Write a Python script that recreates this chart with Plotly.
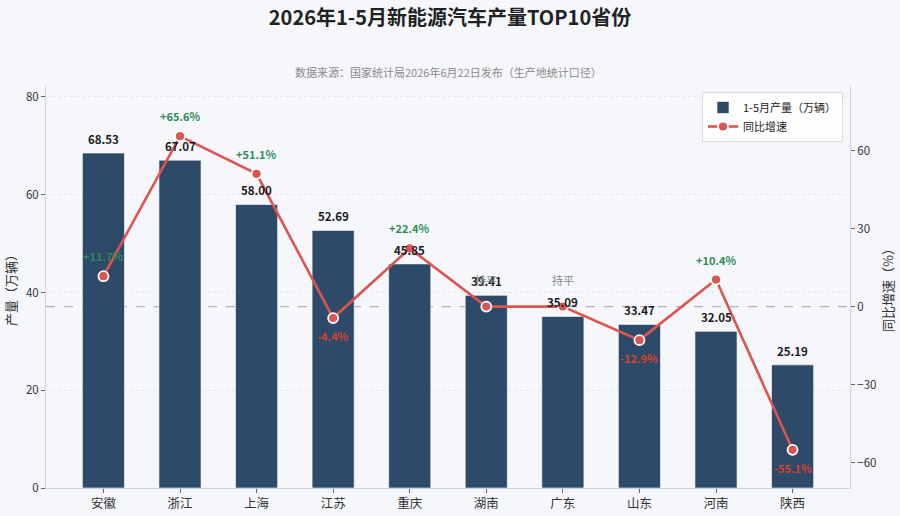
import plotly.graph_objects as go

provinces = ["安徽", "浙江", "上海", "江苏", "重庆", "湖南", "广东", "山东", "河南", "陕西"]
output_vals = [68.53, 67.07, 58.00, 52.69, 45.85, 39.41, 35.09, 33.47, 32.05, 25.19]
growth_vals = [11.7, 65.6, 51.1, -4.4, 22.4, 0.0, 0.0, -12.9, 10.4, -55.1]

FONT = "Noto Sans CJK SC, Microsoft YaHei, sans-serif"
BAR_COLOR = "#2d4a69"
LINE_COLOR = "#dc5550"
BG = "#f5f7fb"

W, H = 900, 516
ML, MR, MT, MB = 46, 50, 86, 28
PH = H - MT - MB

fig = go.Figure()
fig.add_trace(go.Bar(
    x=provinces, y=output_vals, name="1-5月产量（万辆）",
    marker=dict(color=BAR_COLOR, line=dict(color="rgba(255,255,255,0.6)", width=1)),
    width=0.55, yaxis="y",
))
fig.add_trace(go.Scatter(
    x=provinces, y=growth_vals, name="同比增速", yaxis="y2", mode="lines+markers",
    line=dict(color=LINE_COLOR, width=2.6),
    marker=dict(size=10, color=LINE_COLOR, line=dict(color="white", width=1.8)),
))

annotations = []
for p, v in zip(provinces, output_vals):
    annotations.append(dict(x=p, y=v, xref="x", yref="y", text=f"<b>{v:.2f}</b>",
                            showarrow=False, yanchor="bottom", yshift=4,
                            font=dict(family=FONT, size=11.5, color="#1a1a1a")))
for p, g in zip(provinces, growth_vals):
    if g > 0:
        txt, col, ys, ya = f"<b>+{g:.1f}%</b>", "#2e8b57", 10, "bottom"
    elif g < 0:
        txt, col, ys, ya = f"<b>{g:.1f}%</b>", "#d9412f", -8, "top"
    else:
        txt, col, ys, ya = "持平", "#7f8c8d", 17, "bottom"
    annotations.append(dict(x=p, y=g, xref="x", yref="y2", text=txt, showarrow=False,
                            yanchor=ya, yshift=ys, font=dict(family=FONT, size=11, color=col)))

annotations.append(dict(x=0.5, y=1 + (MT - 72) / PH, xref="paper", yref="paper",
                        text="数据来源：国家统计局2026年6月22日发布（生产地统计口径）",
                        showarrow=False, yanchor="middle",
                        font=dict(family=FONT, size=11, color="#8a8a8a")))

fig.update_layout(
    width=W, height=H,
    paper_bgcolor=BG, plot_bgcolor=BG,
    margin=dict(l=ML, r=MR, t=MT, b=MB, autoexpand=False),
    font=dict(family=FONT, size=11, color="#333"),
    title=dict(text="<b>2026年1-5月新能源汽车产量TOP10省份</b>", x=0.5, xanchor="center",
               y=1 - 18 / H, yanchor="middle", font=dict(family=FONT, size=20, color="#222")),
    xaxis=dict(range=[-0.75, 9.75], showline=True, linecolor="#cfd3da", ticks="outside",
               ticklen=4, tickcolor="#666", showgrid=False, automargin=False,
               tickfont=dict(size=12.5, color="#333")),
    yaxis=dict(range=[0, 82.24], dtick=20, showline=True, linecolor="#cfd3da", ticks="outside",
               ticklen=4, tickcolor="#666", showgrid=True, gridcolor="#e3e6ea", griddash="3px,3px",
               zeroline=False, automargin=False,
               title=dict(text="产量（万辆）", font=dict(size=13, color="#333"), standoff=6),
               tickfont=dict(size=11.5, color="#333")),
    yaxis2=dict(range=[-69.8, 84.9], tickvals=[-60, -30, 0, 30, 60], overlaying="y", side="right",
                showline=True, linecolor="#cfd3da", ticks="outside", ticklen=4, tickcolor="#666",
                showgrid=False, zeroline=False, automargin=False,
                title=dict(text="同比增速（%）", font=dict(size=13, color="#333"), standoff=8),
                tickfont=dict(size=11.5, color="#333")),
    legend=dict(x=(843 - ML) / (W - ML - MR), y=1 - (92 - MT) / PH, xanchor="right", yanchor="top",
                bgcolor="rgba(255,255,255,0.85)",
                bordercolor="#dcdcdc", borderwidth=1, font=dict(size=11, color="#222"),
                itemwidth=30, tracegroupgap=0),
    showlegend=True,
    annotations=annotations,
    shapes=[dict(type="line", xref="paper", x0=0, x1=1, yref="y2", y0=0, y1=0,
                 line=dict(color="#b0b4ba", width=1.2, dash="dash"), layer="below")],
)

fig.write_html("out.html")
